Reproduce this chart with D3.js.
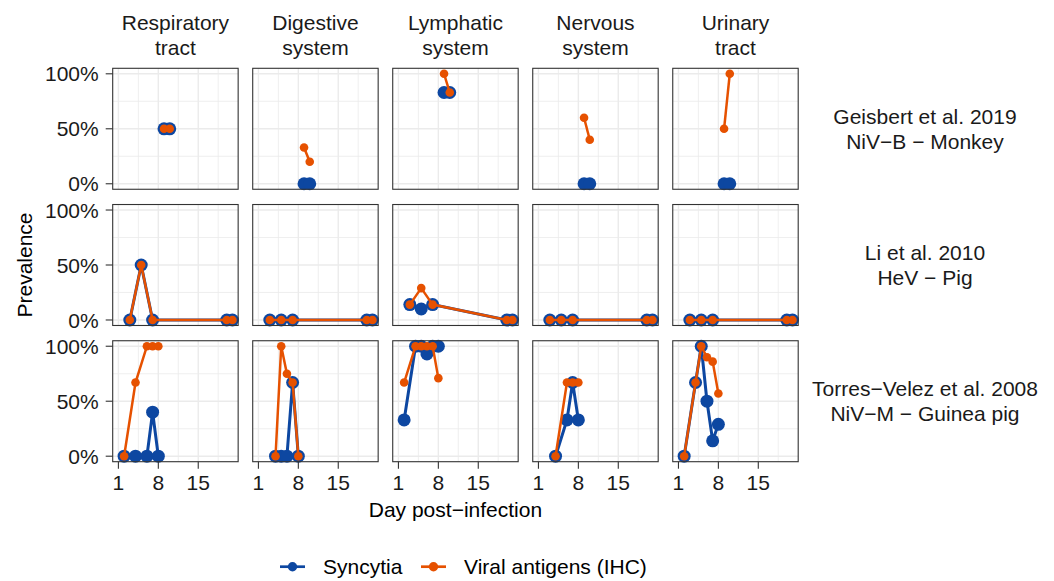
<!DOCTYPE html>
<html>
<head>
<meta charset="utf-8">
<script src="https://cdn.jsdelivr.net/npm/d3@7"></script>
<style>
body { margin: 0; background: #fff; }
text { font-family: "Liberation Sans", Arial, sans-serif; }
</style>
</head>
<body>
<div id="chart"></div>
<script>
// facet labels
let organs = [["Respiratory", "tract"], ["Digestive", "system"], ["Lymphatic", "system"], ["Nervous", "system"], ["Urinary", "tract"]]
let studies = [["Geisbert et al. 2019", "NiV−B − Monkey"], ["Li et al. 2010", "HeV − Pig"], ["Torres−Velez et al. 2008", "NiV−M − Guinea pig"]]
let seriesNames = ["Syncytia", "Viral antigens (IHC)"]
let seriesColors = ["#0D47A1", "#E65100"]

let xTicks = [1, 8, 15]
let xMinor = [4.5, 11.5, 18.5]
let yTicks = [0, 0.5, 1]
let yMinor = [0.25, 0.75]
let yTickLabels = ["0%", "50%", "100%"]

// days sampled in each study
let geisbertDays = [9, 10]
let liDays = [3, 5, 7, 20, 21]
let torresDays = [2, 4, 5, 6, 7, 8]

// prevalence, one row per organ (same order as organs), null = not sampled
let geisbertSyncytia = [[0.5, 0.5], [0, 0], [0.83, 0.83], [0, 0], [0, 0]]
let geisbertIHC = [[0.5, 0.5], [0.33, 0.2], [1, 0.83], [0.6, 0.4], [0.5, 1]]

let liSyncytia = [[0, 0.5, 0, 0, 0], [0, 0, 0, 0, 0], [0.14, 0.1, 0.14, 0, 0], [0, 0, 0, 0, 0], [0, 0, 0, 0, 0]]
let liIHC = [[0, 0.5, 0, 0, 0], [0, 0, 0, 0, 0], [0.14, 0.29, 0.14, 0, 0], [0, 0, 0, 0, 0], [0, 0, 0, 0, 0]]

let torresSyncytia = [
    [0, 0, null, 0, 0.4, 0],
    [null, 0, 0, 0, 0.67, 0],
    [0.33, 1, 1, 0.93, 1, 1],
    [null, 0, null, 0.33, 0.67, 0.33],
    [0, 0.67, 1, 0.5, 0.14, 0.29]]
let torresIHC = [
    [0, 0.67, null, 1, 1, 1],
    [null, 0, 1, 0.75, 0.67, 0],
    [0.67, 1, 1, 1, 1, 0.71],
    [null, 0, null, 0.67, 0.67, 0.67],
    [0, 0.67, 1, 0.9, 0.86, 0.57]]

let studyDays = [geisbertDays, liDays, torresDays]
let studyValues = [[geisbertSyncytia, geisbertIHC], [liSyncytia, liIHC], [torresSyncytia, torresIHC]]

let width = 1054, height = 581

let svg = d3.select("#chart")
    .append("svg")
        .attr("width", width)
        .attr("height", height)

// panel grid
let col = d3.scaleBand().domain(d3.range(5)).range([112.7, 798.2]).paddingInner(0.104)
let row = d3.scaleBand().domain(d3.range(3)).range([68.3, 461.7]).paddingInner(0.112)
let bw = col.bandwidth(), bh = row.bandwidth()

let x = d3.scaleLinear().domain([0, 22]).range([0, bw])
let y = d3.scaleLinear().domain([-0.05, 1.05]).range([bh, 0])

let pointR = [6.5, 4.3]
let lineW = [3, 2.5]

let line = d3.line()
    .x(d => x(d.day))
    .y(d => y(d.value))

studies.forEach(function(study, i) {
    organs.forEach(function(organ, j) {
        let g = svg.append("g")
            .attr("transform", `translate(${col(j)}, ${row(i)})`)

        g.append("rect")
            .attr("width", bw).attr("height", bh)
            .attr("fill", "#fff")

        // minor then major grid lines
        g.selectAll(".xminor").data(xMinor).enter().append("line")
            .attr("x1", d => x(d)).attr("x2", d => x(d))
            .attr("y1", 0).attr("y2", bh)
            .attr("stroke", "#ebebeb").attr("stroke-width", 0.8)
        g.selectAll(".yminor").data(yMinor).enter().append("line")
            .attr("y1", d => y(d)).attr("y2", d => y(d))
            .attr("x1", 0).attr("x2", bw)
            .attr("stroke", "#ebebeb").attr("stroke-width", 0.8)
        g.selectAll(".xmajor").data(xTicks).enter().append("line")
            .attr("x1", d => x(d)).attr("x2", d => x(d))
            .attr("y1", 0).attr("y2", bh)
            .attr("stroke", "#ebebeb").attr("stroke-width", 1.4)
        g.selectAll(".ymajor").data(yTicks).enter().append("line")
            .attr("y1", d => y(d)).attr("y2", d => y(d))
            .attr("x1", 0).attr("x2", bw)
            .attr("stroke", "#ebebeb").attr("stroke-width", 1.4)

        // syncytia first, antigens drawn over it; missing days are skipped, not gaps
        studyValues[i].forEach(function(vals, k) {
            let pts = studyDays[i].map((d, n) => ({day: d, value: vals[j][n]}))
                .filter(p => p.value != null)
            g.append("path")
                .datum(pts)
                .attr("d", line)
                .attr("fill", "none")
                .attr("stroke", seriesColors[k])
                .attr("stroke-width", lineW[k])
            g.selectAll(".pt" + k)
                .data(pts)
                .enter()
                .append("circle")
                .attr("cx", p => x(p.day))
                .attr("cy", p => y(p.value))
                .attr("r", pointR[k])
                .attr("fill", seriesColors[k])
        })

        g.append("rect")
            .attr("width", bw).attr("height", bh)
            .attr("fill", "none")
            .attr("stroke", "#333").attr("stroke-width", 1.1)

        // y axis only on first column
        if (j == 0) {
            yTicks.forEach(function(t, n) {
                g.append("line")
                    .attr("x1", -7).attr("x2", 0)
                    .attr("y1", y(t)).attr("y2", y(t))
                    .attr("stroke", "#333").attr("stroke-width", 1.1)
                g.append("text")
                    .attr("x", -14).attr("y", y(t))
                    .attr("dy", "0.36em")
                    .style("text-anchor", "end")
                    .style("font-size", "21px")
                    .attr("fill", "#1a1a1a")
                    .text(yTickLabels[n])
            })
        }
        // x axis only on last row
        if (i == 2) {
            xTicks.forEach(function(t) {
                g.append("line")
                    .attr("x1", x(t)).attr("x2", x(t))
                    .attr("y1", bh).attr("y2", bh + 7)
                    .attr("stroke", "#333").attr("stroke-width", 1.1)
                g.append("text")
                    .attr("x", x(t)).attr("y", bh + 28.5)
                    .style("text-anchor", "middle")
                    .style("font-size", "21px")
                    .attr("fill", "#1a1a1a")
                    .text(t)
            })
        }
    })
})

// top strips
organs.forEach(function(lines, j) {
    lines.forEach(function(s, n) {
        svg.append("text")
            .attr("x", col(j) + bw / 2)
            .attr("y", 30 + n * 25)
            .style("text-anchor", "middle")
            .style("font-size", "21px")
            .attr("fill", "#1a1a1a")
            .text(s)
    })
})

// right strips
studies.forEach(function(lines, i) {
    lines.forEach(function(s, n) {
        svg.append("text")
            .attr("x", 925)
            .attr("y", row(i) + bh / 2 - 5 + n * 25)
            .style("text-anchor", "middle")
            .style("font-size", "21px")
            .attr("fill", "#1a1a1a")
            .text(s)
    })
})

// axis titles
svg.append("text")
    .attr("x", (112.7 + 798.2) / 2).attr("y", 517)
    .style("text-anchor", "middle")
    .style("font-size", "21px")
    .attr("fill", "#000")
    .text("Day post−infection")

svg.append("text")
    .attr("transform", `translate(32, ${(68.3 + 461.7) / 2}) rotate(-90)`)
    .style("text-anchor", "middle")
    .style("font-size", "21px")
    .attr("fill", "#000")
    .text("Prevalence")

// legend
let legX = [280, 421]
let leg = svg.append("g")
seriesNames.forEach(function(name, k) {
    leg.append("line")
        .attr("x1", legX[k]).attr("x2", legX[k] + 25)
        .attr("y1", 566.7).attr("y2", 566.7)
        .attr("stroke", seriesColors[k]).attr("stroke-width", 2.7)
    leg.append("circle")
        .attr("cx", legX[k] + 12.5).attr("cy", 566.7)
        .attr("r", 4.7)
        .attr("fill", seriesColors[k])
    leg.append("text")
        .attr("x", legX[k] + 43).attr("y", 566.7)
        .attr("dy", "0.36em")
        .style("font-size", "21px")
        .attr("fill", "#000")
        .text(name)
})
</script>
</body>
</html>
